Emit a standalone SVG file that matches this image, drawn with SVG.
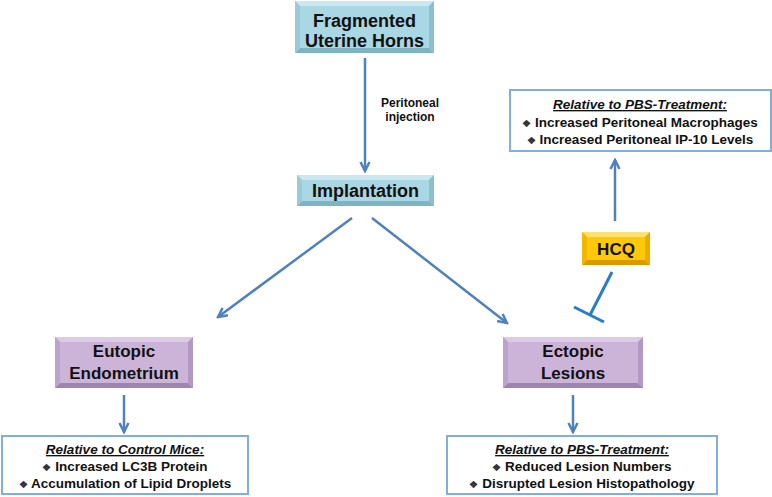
<svg xmlns="http://www.w3.org/2000/svg" width="772" height="497" viewBox="0 0 772 497">
<style>
text{font-family:"Liberation Sans",Arial,sans-serif;font-weight:bold;fill:#111;text-anchor:middle}
.t{font-size:18px}
.s{font-size:13.5px}
.b{font-size:10px;fill:#333}
.h{font-size:13.5px;font-style:italic;text-decoration:underline}
.lab{font-size:12px}
.blue .c{fill:#a9d7e3}.blue .tp{fill:#cbe8f0}.blue .bt{fill:#7eb3c3}.blue .lf{fill:#98cad7}.blue .rt{fill:#8bbfce}
.pur .c{fill:#cbb4d8}.pur .tp{fill:#dccae6}.pur .bt{fill:#9f84b2}.pur .lf{fill:#bca3cb}.pur .rt{fill:#b398c4}
.gold .c{fill:#ffc90a}.gold .tp{fill:#ffe170}.gold .bt{fill:#d99a00}.gold .lf{fill:#f2b800}.gold .rt{fill:#e8ad00}
.box{fill:#fff;stroke:#7fb0dc;stroke-width:2}
.ar{stroke:#4f81bd;stroke-width:2.5;fill:none;marker-end:url(#ah)}
.inh{stroke:#2a7cc7;stroke-width:3;fill:none}
</style>
<defs>
<marker id="ah" viewBox="0 0 12 12" markerWidth="12" markerHeight="12" markerUnits="userSpaceOnUse" refX="10" refY="6" orient="auto">
<path d="M1,1.5 L10,6 L1,10.5" fill="none" stroke="#4f81bd" stroke-width="2.5" stroke-linejoin="miter"/>
</marker>
</defs>
<rect width="772" height="497" fill="#fff"/>

<g id="connectors">
<line class="ar" x1="365" y1="58" x2="365" y2="171"/>
<line class="ar" x1="352" y1="218" x2="218" y2="317"/>
<line class="ar" x1="372" y1="218" x2="507" y2="323"/>
<line class="ar" x1="124" y1="395" x2="124" y2="432"/>
<line class="ar" x1="573" y1="395" x2="573" y2="432"/>
<line class="ar" x1="615" y1="221" x2="615" y2="160"/>
<g id="inhibit">
<line class="inh" x1="612" y1="272" x2="590" y2="315"/>
<line class="inh" x1="574" y1="307" x2="604" y2="322"/>
</g>
</g>

<g id="peritoneal-label">
<text class="lab" x="410" y="107">Peritoneal</text>
<text class="lab" x="410" y="121">injection</text>
</g>

<g id="fragmented" class="blue">
<rect class="c" x="295" y="1" width="139" height="52"/>
<polygon class="tp" points="295,1 434,1 429,6 300,6"/>
<polygon class="bt" points="295,53 434,53 429,48 300,48"/>
<polygon class="lf" points="295,1 300,6 300,48 295,53"/>
<polygon class="rt" points="434,1 429,6 429,48 434,53"/>
<text class="t" x="364.5" y="27">Fragmented</text>
<text class="t" x="364.5" y="47">Uterine Horns</text>
</g>

<g id="implantation" class="blue">
<rect class="c" x="297" y="175" width="137" height="31"/>
<polygon class="tp" points="297,175 434,175 429,180 302,180"/>
<polygon class="bt" points="297,206 434,206 429,201 302,201"/>
<polygon class="lf" points="297,175 302,180 302,201 297,206"/>
<polygon class="rt" points="434,175 429,180 429,201 434,206"/>
<text class="t" x="365.5" y="197">Implantation</text>
</g>

<g id="eutopic" class="pur">
<rect class="c" x="55" y="337" width="138" height="51"/>
<polygon class="tp" points="55,337 193,337 188,342 60,342"/>
<polygon class="bt" points="55,388 193,388 188,383 60,383"/>
<polygon class="lf" points="55,337 60,342 60,383 55,388"/>
<polygon class="rt" points="193,337 188,342 188,383 193,388"/>
<text class="t" x="124" y="357" style="font-size:17px">Eutopic</text>
<text class="t" x="124" y="379" style="font-size:17px">Endometrium</text>
</g>

<g id="ectopic" class="pur">
<rect class="c" x="503" y="337" width="140" height="51"/>
<polygon class="tp" points="503,337 643,337 638,342 508,342"/>
<polygon class="bt" points="503,388 643,388 638,383 508,383"/>
<polygon class="lf" points="503,337 508,342 508,383 503,388"/>
<polygon class="rt" points="643,337 638,342 638,383 643,388"/>
<text class="t" x="573" y="357" style="font-size:17px">Ectopic</text>
<text class="t" x="573" y="379" style="font-size:17px">Lesions</text>
</g>

<g id="hcq" class="gold">
<rect class="c" x="582" y="232" width="68" height="33"/>
<polygon class="tp" points="582,232 650,232 645,237 587,237"/>
<polygon class="bt" points="582,265 650,265 645,260 587,260"/>
<polygon class="lf" points="582,232 587,237 587,260 582,265"/>
<polygon class="rt" points="650,232 645,237 645,260 650,265"/>
<text class="t" x="616" y="255" style="font-size:17px">HCQ</text>
</g>

<g id="pbs-top">
<rect class="box" x="510" y="90" width="261" height="61"/>
<text class="h" x="640" y="109">Relative to PBS-Treatment:</text>
<text class="s" x="640" y="127"><tspan class="b">❖</tspan> Increased Peritoneal Macrophages</text>
<text class="s" x="640" y="144"><tspan class="b">❖</tspan> Increased Peritoneal IP-10 Levels</text>
</g>

<g id="control-mice">
<rect class="box" x="2" y="436" width="246" height="58"/>
<text class="h" x="125" y="454">Relative to Control Mice:</text>
<text class="s" x="125" y="471"><tspan class="b">❖</tspan> Increased LC3B Protein</text>
<text class="s" x="125" y="488"><tspan class="b">❖</tspan> Accumulation of Lipid Droplets</text>
</g>

<g id="pbs-bottom">
<rect class="box" x="447" y="436" width="270" height="58"/>
<text class="h" x="582" y="454">Relative to PBS-Treatment:</text>
<text class="s" x="582" y="471"><tspan class="b">❖</tspan> Reduced Lesion Numbers</text>
<text class="s" x="582" y="488"><tspan class="b">❖</tspan> Disrupted Lesion Histopathology</text>
</g>
</svg>
